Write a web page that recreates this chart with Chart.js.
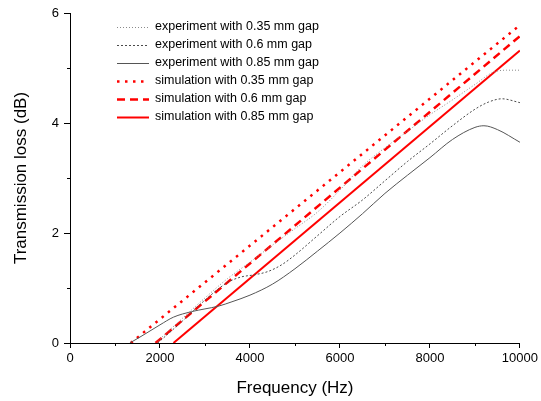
<!DOCTYPE html>
<html>
<head>
<meta charset="utf-8">
<script src="https://cdn.jsdelivr.net/npm/chart.js@4.4.1/dist/chart.umd.min.js"></script>
<style>
  html, body { margin: 0; padding: 0; background: #fff; }
  #wrap { width: 541px; height: 401px; }
</style>
</head>
<body>
<div id="wrap"><canvas id="chart"></canvas></div>
<script>
// values
const xTicks = [0, 2000, 4000, 6000, 8000, 10000];
const yTicks = [0, 2, 4, 6];

const expFreq035 = [1900, 2500, 3000, 3500, 4000, 4500, 5000, 5500, 6000, 6500, 7000, 7500, 8000, 8500, 9000, 9400, 9700, 10000];
const expTL035   = [0, 0.45, 0.82, 1.17, 1.47, 1.78, 2.08, 2.38, 2.78, 3.22, 3.55, 3.85, 4.15, 4.42, 4.7, 4.92, 4.96, 4.96];

const expFreq06 = [1950, 2500, 3000, 3500, 3800, 4100, 4400, 4700, 5000, 5500, 6000, 6500, 7000, 7500, 8000, 8500, 9000, 9300, 9600, 10000];
const expTL06   = [0, 0.4, 0.78, 1.1, 1.2, 1.24, 1.3, 1.42, 1.6, 1.95, 2.3, 2.6, 2.95, 3.3, 3.62, 3.95, 4.25, 4.38, 4.44, 4.37];

const expFreq085 = [1330, 1600, 2000, 2300, 2700, 3000, 3300, 3600, 4000, 4500, 5000, 5500, 6000, 6500, 7000, 7500, 8000, 8500, 9000, 9200, 9500, 10000];
const expTL085   = [0, 0.13, 0.33, 0.47, 0.57, 0.62, 0.67, 0.75, 0.87, 1.07, 1.35, 1.67, 2.0, 2.35, 2.72, 3.05, 3.37, 3.7, 3.92, 3.95, 3.88, 3.65];

const simFreq035 = [1350, 10000];
const simTL035   = [0, 5.78];
const simFreq06  = [1900, 10000];
const simTL06    = [0, 5.58];
const simFreq085 = [2300, 10000];
const simTL085   = [0, 5.32];

const labels = [
  'experiment with 0.35 mm gap',
  'experiment with 0.6 mm gap',
  'experiment with 0.85 mm gap',
  'simulation with 0.35 mm gap',
  'simulation with 0.6 mm gap',
  'simulation with 0.85 mm gap'
];

const FONT = '"Liberation Sans", Arial, sans-serif';
const pts = (xs, ys) => xs.map((x, i) => ({ x: x, y: ys[i] }));

function exp(label, xs, ys, color, dash) {
  return { label, data: pts(xs, ys), borderColor: color, borderWidth: 1, borderDash: dash,
    pointRadius: 0, cubicInterpolationMode: 'monotone', fill: false };
}
function sim(label, xs, ys, dash, width) {
  return { label, data: pts(xs, ys), borderColor: '#ff0000', borderWidth: width, borderDash: dash,
    pointRadius: 0, fill: false };
}

// short ticks between labelled ones
const minorTicks = {
  id: 'minorTicks',
  afterDraw(chart) {
    const { ctx, scales: { x, y } } = chart;
    ctx.save();
    ctx.strokeStyle = '#000';
    ctx.lineWidth = 1;
    ctx.beginPath();
    x.ticks.forEach(t => {
      if (!xTicks.includes(t.value)) {
        const px = Math.round(x.getPixelForValue(t.value)) + 0.5;
        ctx.moveTo(px, y.bottom); ctx.lineTo(px, y.bottom + 3);
      }
    });
    y.ticks.forEach(t => {
      if (!yTicks.includes(t.value)) {
        const py = Math.round(y.getPixelForValue(t.value)) + 0.5;
        ctx.moveTo(x.left, py); ctx.lineTo(x.left - 3, py);
      }
    });
    ctx.stroke();
    ctx.restore();
  }
};

// legend inside the plot, top left
const innerLegend = {
  id: 'innerLegend',
  afterDraw(chart) {
    const { ctx, chartArea } = chart;
    const x0 = chartArea.left + 47, x1 = chartArea.left + 79, tx = chartArea.left + 85;
    ctx.save();
    ctx.font = '12.5px ' + FONT;
    ctx.textBaseline = 'middle';
    ctx.fillStyle = '#000';
    chart.data.datasets.forEach((ds, i) => {
      const yy = chartArea.top + 14 + i * 18;
      ctx.beginPath();
      ctx.strokeStyle = ds.borderColor;
      ctx.lineWidth = ds.borderWidth;
      ctx.setLineDash(ds.borderDash || []);
      ctx.moveTo(x0, yy + 0.5); ctx.lineTo(x1, yy + 0.5);
      ctx.stroke();
      ctx.setLineDash([]);
      ctx.fillText(ds.label, tx, yy);
    });
    ctx.restore();
  }
};

new Chart(document.getElementById('chart'), {
  type: 'line',
  data: {
    datasets: [
      exp(labels[0], expFreq035, expTL035, '#8a8a8a', [1, 2]),
      exp(labels[1], expFreq06, expTL06, '#4a4a4a', [2, 2]),
      exp(labels[2], expFreq085, expTL085, '#555555', []),
      sim(labels[3], simFreq035, simTL035, [2.5, 5.5], 2.5),
      sim(labels[4], simFreq06, simTL06, [8, 5], 2.5),
      sim(labels[5], simFreq085, simTL085, [], 2)
    ]
  },
  options: {
    responsive: true,
    maintainAspectRatio: false,
    animation: false,
    layout: { padding: { left: 0, right: 20, top: 13, bottom: 0 } },
    plugins: { legend: { display: false }, tooltip: { enabled: false } },
    scales: {
      x: {
        type: 'linear', min: 0, max: 10000,
        afterFit: s => { s.height = 58; },
        grid: { drawOnChartArea: false, tickLength: 5,
          tickColor: c => (c.tick && !xTicks.includes(c.tick.value)) ? 'rgba(0,0,0,0)' : '#000' },
        border: { display: true, color: '#000', width: 1 },
        ticks: { stepSize: 1000, autoSkip: false, maxRotation: 0, padding: 3, color: '#000',
          font: { family: FONT, size: 13 },
          callback: v => xTicks.includes(v) ? String(v) : '' },
        title: { display: true, text: 'Frequency (Hz)', color: '#000',
          font: { family: FONT, size: 17 }, padding: { top: 0, bottom: 2 } }
      },
      y: {
        min: 0, max: 6,
        afterFit: s => { s.width = 70; },
        grid: { drawOnChartArea: false, tickLength: 6,
          tickColor: c => (c.tick && !yTicks.includes(c.tick.value)) ? 'rgba(0,0,0,0)' : '#000' },
        border: { display: true, color: '#000', width: 1 },
        ticks: { stepSize: 1, autoSkip: false, padding: 5, color: '#000',
          font: { family: FONT, size: 13 },
          callback: v => yTicks.includes(v) ? String(v) : '' },
        title: { display: true, text: 'Transmission loss (dB)', color: '#000',
          font: { family: FONT, size: 17 }, padding: { top: 11, bottom: 0 } }
      }
    }
  },
  plugins: [minorTicks, innerLegend]
});
</script>
</body>
</html>
